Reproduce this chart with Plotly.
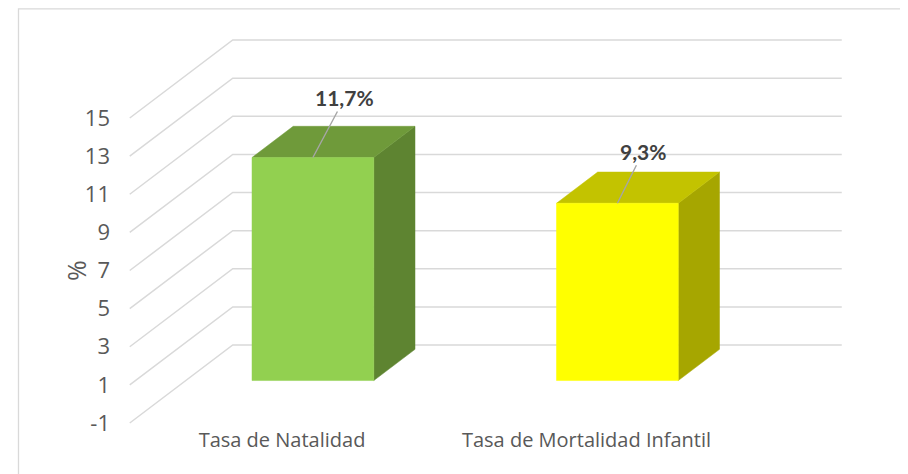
import plotly.graph_objects as go

# ---------------- data ----------------
categories = ["Tasa de Natalidad", "Tasa de Mortalidad Infantil"]
values = [11.7, 9.3]
tick_values = [-1, 1, 3, 5, 7, 9, 11, 13, 15]
tick_labels = ["-1", "1", "3", "5", "7", "9", "11", "13", "15"]
axis_title = "%"

front_colors = ["#92D050", "#FFFF00"]
top_colors = ["#6F9A3A", "#C3C300"]
side_colors = ["#5E8431", "#A6A600"]
label_offsets = [(32, -60), (26, -52)]   # data-label position relative to bar top (px)

# ---------------- geometry (pseudo 3D, in axis units) ----------------
PAGE_W, PAGE_H = 908, 474
OFF = 8                                   # default body margin of the html page
W, H = PAGE_W - OFF, PAGE_H - OFF         # figure size
px_per_cat = 304.5
cat0_px = 282.0 - OFF
px_per_val = 19.0625
v15_px = 118.0 - OFF
DX = 103 / px_per_cat          # depth offset in category units
DY = 78 / px_per_val           # depth offset in value units
bar_w = 0.4
bar_d0, bar_d1 = 0.3, 0.7      # bar occupies this fraction of the depth
base = 0.0

x_range = [-cat0_px / px_per_cat, (W - cat0_px) / px_per_cat]
y_range = [15 - (H - v15_px) / px_per_val, 15 + v15_px / px_per_val]

fig = go.Figure()

# gridlines: back wall + side wall diagonals
gx, gy = [], []
left, right = -0.5, len(categories) - 0.5
for v in tick_values:
    gx += [left, left + DX, right + DX, None]
    gy += [v, v + DY, v + DY, None]
fig.add_trace(go.Scatter(x=gx, y=gy, mode="lines",
                         line=dict(color="#D9D9D9", width=1.5),
                         hoverinfo="skip", showlegend=False))

def P(c, v, d):
    return c + d * DX, v + d * DY

def face(pts, color):
    fig.add_trace(go.Scatter(x=[p[0] for p in pts] + [pts[0][0]],
                             y=[p[1] for p in pts] + [pts[0][1]],
                             fill="toself", fillcolor=color, mode="lines",
                             line=dict(color=color, width=0.5),
                             hoverinfo="skip", showlegend=False))

for i, (cat, val) in enumerate(zip(categories, values)):
    cx0, cx1 = i - bar_w / 2, i + bar_w / 2
    face([P(cx1, val, bar_d0), P(cx1, val, bar_d1), P(cx1, base, bar_d1), P(cx1, base, bar_d0)], side_colors[i])
    face([P(cx0, val, bar_d0), P(cx1, val, bar_d0), P(cx1, val, bar_d1), P(cx0, val, bar_d1)], top_colors[i])
    face([P(cx0, base, bar_d0), P(cx1, base, bar_d0), P(cx1, val, bar_d0), P(cx0, val, bar_d0)], front_colors[i])
    # data label with leader line
    hx, hy = P(i, val, bar_d0)
    fig.add_annotation(x=hx, y=hy, xref="x", yref="y",
                       text="<b>" + f"{val:.1f}".replace(".", ",") + "%</b>",
                       showarrow=True, arrowhead=0, arrowwidth=1.4, arrowcolor="#A6A6A6",
                       ax=label_offsets[i][0], ay=label_offsets[i][1],
                       font=dict(family="Lato", size=21, color="#404040"))

# axis title
fig.add_annotation(x=(76 - OFF) / W, y=1 - (271 - OFF) / H, xref="paper", yref="paper",
                   xanchor="center", yanchor="middle",
                   text=axis_title, textangle=-90, showarrow=False,
                   font=dict(family="Open Sans", size=25, color="#595959"))

# chart border
fig.add_shape(type="rect", xref="paper", yref="paper",
              x0=(18.5 - OFF) / W, x1=(906.5 - OFF) / W, y0=-0.2, y1=1 - 0.8 / H,
              line=dict(color="#D9D9D9", width=1.3), fillcolor="rgba(0,0,0,0)")

fig.update_layout(
    template="none",
    width=W, height=H,
    margin=dict(l=0, r=0, t=0, b=0, pad=0),
    paper_bgcolor="white", plot_bgcolor="white",
    showlegend=False,
    xaxis=dict(range=x_range, showgrid=False, zeroline=False, showline=False,
               automargin=False,
               tickmode="array", tickvals=list(range(len(categories))), ticktext=categories,
               ticks="", anchor="free", position=(PAGE_H - 426) / H,
               tickfont=dict(family="Open Sans", size=20, color="#595959")),
    yaxis=dict(range=y_range, showgrid=False, zeroline=False, showline=False,
               automargin=False,
               tickmode="array", tickvals=tick_values, ticktext=tick_labels, ticks="",
               anchor="free", position=(110 - OFF) / W,
               tickfont=dict(family="Open Sans", size=22, color="#595959")),
)

fig.write_html("out.html")
